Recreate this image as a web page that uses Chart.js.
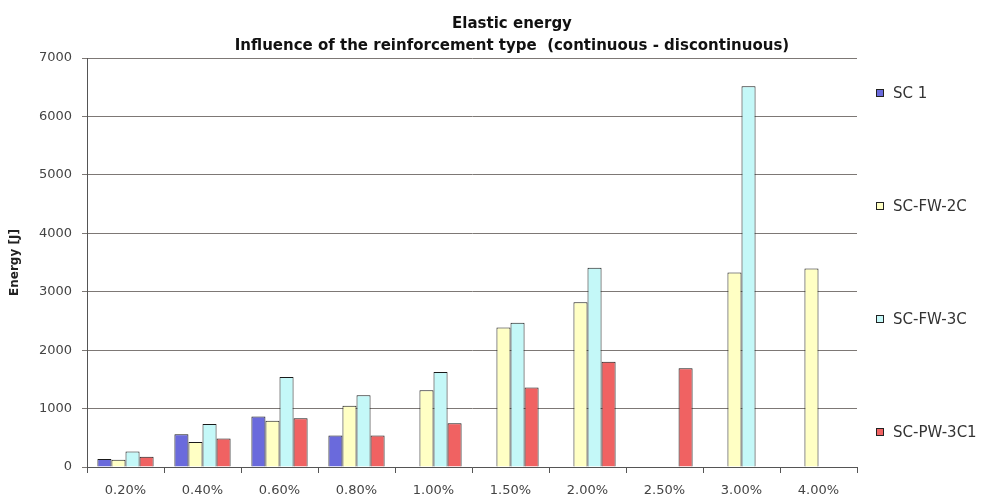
<!DOCTYPE html>
<html>
<head>
<meta charset="utf-8">
<script src="https://cdn.jsdelivr.net/npm/chart.js@4.4.0/dist/chart.umd.min.js"></script>
<style>
  html, body { margin: 0; padding: 0; background: #ffffff; overflow: hidden; }
  #c { display: block; }
</style>
</head>
<body>
<canvas id="c" width="985" height="498"></canvas>
<script>
// Reinforcement ratio categories
const categories = ['0.20%', '0.40%', '0.60%', '0.80%', '1.00%', '1.50%', '2.00%', '2.50%', '3.00%', '4.00%'];

// Elastic energy [J] per specimen series (null = not tested)
const sc1     = [135, 560, 865, 540, null, null, null, null, null, null];
const scFw2c  = [125, 430, 790, 1050, 1315, 2390, 2820, null, 3330, 3400];
const scFw3c  = [265, 735, 1540, 1230, 1625, 2470, 3410, null, 6520, null];
const scPw3c1 = [175, 490, 835, 540, 750, 1360, 1800, 1690, null, null];

const seriesNames = ['SC 1', 'SC-FW-2C', 'SC-FW-3C', 'SC-PW-3C1'];
const seriesColors = ['#6a6adc', '#ffffc4', '#c4f8f8', '#f06262'];

const yMin = 0, yMax = 7000, yStep = 1000;

const FONT = 'DejaVu Sans';

// Centre the two-line title over the plot plus the legend column
const titleSpan = {
  id: 'titleSpan',
  afterLayout(chart) {
    const t = chart.titleBlock;
    if (t) { t.left = 39; t.right = chart.width; }
  }
};

// Legend drawn as a column on the right, entries spread over the plot height
const sideLegend = {
  id: 'sideLegend',
  afterDraw(chart) {
    const ctx = chart.ctx;
    const area = chart.chartArea;
    const items = chart.data.datasets;
    const step = 113;
    const mid = (area.top + area.bottom) / 2;
    ctx.save();
    ctx.font = '15px "' + FONT + '"';
    ctx.textBaseline = 'middle';
    ctx.textAlign = 'left';
    items.forEach((ds, i) => {
      const y = Math.round(mid + (i - (items.length - 1) / 2) * step);
      const x = Math.round(area.right + 19);
      ctx.fillStyle = ds.backgroundColor;
      ctx.fillRect(x, y - 4, 8, 8);
      ctx.strokeStyle = '#222222';
      ctx.lineWidth = 1;
      ctx.strokeRect(x + 0.5, y - 3.5, 7, 7);
      ctx.fillStyle = '#333333';
      ctx.fillText(ds.label, x + 17, y + 1);
    });
    ctx.restore();
  }
};

const seriesData = [sc1, scFw2c, scFw3c, scPw3c1];

new Chart(document.getElementById('c'), {
  type: 'bar',
  data: {
    labels: categories,
    datasets: seriesData.map((vals, i) => ({
      label: seriesNames[i],
      data: vals,
      backgroundColor: seriesColors[i],
      borderColor: '#1a1a1a',
      borderWidth: 1,
      categoryPercentage: 0.73,
      barPercentage: 1.0
    }))
  },
  options: {
    responsive: false,
    animation: false,
    devicePixelRatio: 1,
    layout: { padding: { left: 4, right: 128, top: 0, bottom: 0 } },
    plugins: {
      legend: { display: false },
      tooltip: { enabled: false },
      title: {
        display: true,
        text: ['Elastic energy', 'Influence of the reinforcement type  (continuous - discontinuous)'],
        font: { family: FONT, size: 15, weight: 'bold', lineHeight: 1.47 },
        color: '#111111',
        padding: { top: 13, bottom: 1 }
      }
    },
    scales: {
      x: {
        grid: { display: true, drawOnChartArea: false, drawTicks: true, tickLength: 6, color: '#555555', offset: true },
        border: { color: '#555555', width: 1 },
        ticks: { font: { family: FONT, size: 13 }, color: '#444444', padding: 10, maxRotation: 0, autoSkip: false },
        afterFit(scale) { scale.height = 31; }
      },
      y: {
        min: yMin,
        max: yMax,
        ticks: {
          stepSize: yStep,
          font: { family: FONT, size: 13 },
          color: '#444444',
          padding: 10,
          callback: (v) => String(v)
        },
        grid: { color: '#7d7875', lineWidth: 1, tickLength: 5 },
        border: { color: '#555555', width: 1 },
        title: {
          display: true,
          text: 'Energy [J]',
          font: { family: FONT, size: 12, weight: 'bold' },
          color: '#222222',
          padding: { top: 4, bottom: 4 }
        },
        afterFit(scale) { scale.width = 83; }
      }
    }
  },
  plugins: [titleSpan, sideLegend]
});
</script>
</body>
</html>
